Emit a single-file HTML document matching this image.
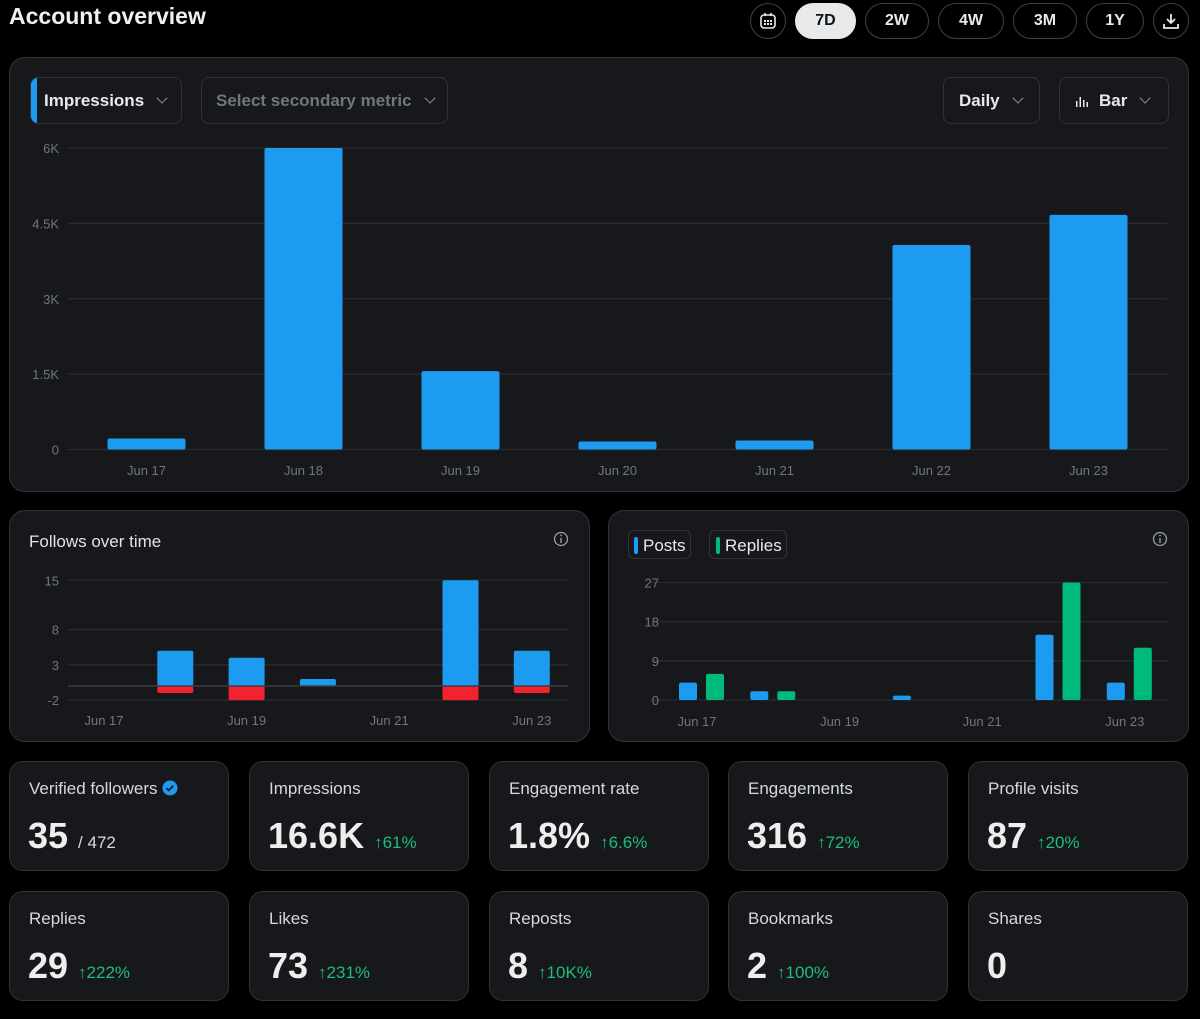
<!DOCTYPE html>
<html><head><meta charset="utf-8"><style>
*{box-sizing:border-box;margin:0;padding:0}
body{width:1200px;height:1019px;background:#000;position:relative;overflow:hidden;font-family:"Liberation Sans",sans-serif;color:#e7e9ea}
.abs{position:absolute}
.panel{position:absolute;background:#17181c;border:1px solid #2f3336;border-radius:16px}
.pill{position:absolute;top:3px;height:36px;border:1px solid #3e4144;border-radius:18px;color:#e7e9ea;font-weight:bold;font-size:16px;display:flex;align-items:center;justify-content:center}
.dd{position:absolute;top:77px;height:47px;border:1px solid #2f3336;border-radius:8px;display:flex;align-items:center;font-weight:bold;font-size:17px;color:#e7e9ea}
.chev{display:inline-block;width:8px;height:8px;border-right:1.5px solid #8b8f93;border-bottom:1.5px solid #8b8f93;transform:rotate(45deg);margin-top:-5px}
.card{position:absolute;width:220px;height:110px;background:#17181c;border:1px solid #2f3336;border-radius:14px}
.card .lb{position:absolute;left:19px;top:17px;font-size:17px;color:#d6d9db}
.card .val{position:absolute;left:18px;top:53px;font-size:36px;font-weight:bold;color:#eeeeee}
.card .dl{font-size:17px;font-weight:normal;color:#1fbd79;margin-left:10px}
.card .sub{font-size:17px;font-weight:normal;color:#d6d9db;margin-left:10px}
svg text{font-family:"Liberation Sans",sans-serif}
</style></head><body>
<div class="abs" style="left:9px;top:3px;font-size:23px;font-weight:bold;color:#f0f0f0">Account overview</div>

<div class="pill" style="left:750px;width:36px">
<svg width="18" height="18" viewBox="0 0 18 18"><rect x="2" y="3" width="14" height="13" rx="3" fill="none" stroke="#e7e9ea" stroke-width="1.6"/><line x1="6" y1="1" x2="6" y2="4" stroke="#e7e9ea" stroke-width="1.6"/><line x1="12" y1="1" x2="12" y2="4" stroke="#e7e9ea" stroke-width="1.6"/><g fill="#e7e9ea"><rect x="5" y="8" width="2" height="2"/><rect x="8" y="8" width="2" height="2"/><rect x="11" y="8" width="2" height="2"/><rect x="5" y="11" width="2" height="2"/><rect x="8" y="11" width="2" height="2"/><rect x="11" y="11" width="2" height="2"/></g></svg></div>
<div class="pill" style="left:795px;width:61px;background:#e7e9ea;color:#0f1419;border-color:#e7e9ea">7D</div>
<div class="pill" style="left:865px;width:64px">2W</div>
<div class="pill" style="left:938px;width:66px">4W</div>
<div class="pill" style="left:1013px;width:64px">3M</div>
<div class="pill" style="left:1086px;width:58px">1Y</div>
<div class="pill" style="left:1153px;width:36px">
<svg width="18" height="18" viewBox="0 0 18 18"><path d="M9 2v9M5 7l4 4 4-4M2 12v4h14v-4" fill="none" stroke="#e7e9ea" stroke-width="1.8"/></svg></div>

<div class="panel" style="left:9px;top:57px;width:1180px;height:435px"></div>
<div class="dd" style="left:30px;width:152px;overflow:hidden"><span style="width:6px;height:47px;background:#1d9bf0;margin-right:7px"></span>Impressions<span class="chev" style="margin-left:14px"></span></div>
<div class="dd" style="left:201px;width:247px;color:#71767b;padding-left:14px">Select secondary metric<span class="chev" style="margin-left:14px"></span></div>
<div class="dd" style="left:943px;width:97px;padding-left:15px">Daily<span class="chev" style="margin-left:14px"></span></div>
<div class="dd" style="left:1059px;width:110px;padding-left:15px"><svg width="14" height="12" style="margin-right:10px"><g fill="#e7e9ea"><rect x="1" y="6" width="1.5" height="6"/><rect x="4.5" y="2" width="1.5" height="10"/><rect x="8" y="5" width="1.5" height="7"/><rect x="11.5" y="7" width="1.5" height="5"/></g></svg>Bar<span class="chev" style="margin-left:14px"></span></div>

<div class="panel" style="left:9px;top:510px;width:581px;height:232px"></div>
<div class="abs" style="left:29px;top:532px;font-size:17px;color:#e1e3e5">Follows over time</div>
<div class="panel" style="left:608px;top:510px;width:581px;height:232px"></div>
<div class="abs" style="left:628px;top:530px;width:63px;height:29px;border:1px solid #2f3336;border-radius:6px;font-size:17px;padding:5px 0 0 14px"><span style="position:absolute;left:5px;top:6px;width:4px;height:17px;background:#1d9bf0;border-radius:2px"></span>Posts</div>
<div class="abs" style="left:709px;top:530px;width:78px;height:29px;border:1px solid #2f3336;border-radius:6px;font-size:17px;padding:5px 0 0 15px"><span style="position:absolute;left:6px;top:6px;width:4px;height:17px;background:#00ba7c;border-radius:2px"></span>Replies</div>

<svg class="abs" style="left:0;top:0" width="1200" height="1019" id="charts">
<g><circle cx="561" cy="539" r="6.5" fill="none" stroke="#9a9ea2" stroke-width="1.3"/><line x1="561" y1="538" x2="561" y2="543" stroke="#9a9ea2" stroke-width="1.4"/><circle cx="561" cy="535.5" r="0.9" fill="#9a9ea2"/></g>
<g><circle cx="1160" cy="539" r="6.5" fill="none" stroke="#9a9ea2" stroke-width="1.3"/><line x1="1160" y1="538" x2="1160" y2="543" stroke="#9a9ea2" stroke-width="1.4"/><circle cx="1160" cy="535.5" r="0.9" fill="#9a9ea2"/></g>
</svg>

<div class="card" style="left:9px;top:761px"><div class="lb">Verified followers <svg width="16" height="16" viewBox="0 0 16 16" style="vertical-align:-2px"><circle cx="8" cy="8" r="7.5" fill="#1d9bf0"/><path d="M4.5 8.2l2.3 2.2 4.5-4.6" fill="none" stroke="#17181c" stroke-width="1.8"/></svg></div><div class="val">35<span class="sub">/ 472</span></div></div>
<div class="card" style="left:249px;top:761px"><div class="lb">Impressions</div><div class="val">16.6K<span class="dl">↑61%</span></div></div>
<div class="card" style="left:489px;top:761px"><div class="lb">Engagement rate</div><div class="val">1.8%<span class="dl">↑6.6%</span></div></div>
<div class="card" style="left:728px;top:761px"><div class="lb">Engagements</div><div class="val">316<span class="dl">↑72%</span></div></div>
<div class="card" style="left:968px;top:761px"><div class="lb">Profile visits</div><div class="val">87<span class="dl">↑20%</span></div></div>
<div class="card" style="left:9px;top:891px"><div class="lb">Replies</div><div class="val">29<span class="dl">↑222%</span></div></div>
<div class="card" style="left:249px;top:891px"><div class="lb">Likes</div><div class="val">73<span class="dl">↑231%</span></div></div>
<div class="card" style="left:489px;top:891px"><div class="lb">Reposts</div><div class="val">8<span class="dl">↑10K%</span></div></div>
<div class="card" style="left:728px;top:891px"><div class="lb">Bookmarks</div><div class="val">2<span class="dl">↑100%</span></div></div>
<div class="card" style="left:968px;top:891px"><div class="lb">Shares</div><div class="val">0</div></div>

<script>
const days = ["Jun 17","Jun 18","Jun 19","Jun 20","Jun 21","Jun 22","Jun 23"];
const impressions = [220, 6000, 1560, 160, 180, 4070, 4670];
const impTicks = [0, 1500, 3000, 4500, 6000];
const impTickLabels = ["0","1.5K","3K","4.5K","6K"];
const followsGained = [0, 5, 4, 1, 0, 15, 5];
const followsLost = [0, -1, -2, 0, 0, -2, -1];
const followTicks = [-2, 3, 8, 15];
const postsSeries = [4, 2, 0, 1, 0, 15, 4];
const repliesSeries = [6, 2, 0, 0, 0, 27, 12];
const postTicks = [0, 9, 18, 27];
const followLabelIdx = [0, 2, 4, 6];

const svg = document.getElementById('charts');
const NS = 'http://www.w3.org/2000/svg';
function mk(tag, attrs){const e=document.createElementNS(NS,tag);for(const k in attrs)e.setAttribute(k,attrs[k]);svg.appendChild(e);return e;}
function rectV(x,w,y0,y1){return {x:x,y:Math.min(y0,y1),width:w,height:Math.max(Math.abs(y1-y0),1)};}

const mY = v => 449.5 - v/6000*301.5;
const mX = i => 146.5 + i*157;
impTicks.forEach((t,i)=>{
  const l=mk('line',{x1:68,x2:1167,y1:mY(t),y2:mY(t),stroke:'#2a2d31','stroke-width':1.2});
  
  
  const tx=mk('text',{x:59,y:mY(t)+5,'text-anchor':'end','font-size':13,fill:'#71767b'});
  tx.textContent=impTickLabels[i];
  
  
});
impressions.forEach((v,i)=>{
  const r=rectV(mX(i)-39,78,mY(0),mY(v));
  const b=mk('rect',{x:r.x,y:r.y,width:r.width,height:r.height,rx:2,fill:'#1d9bf0'});
  
  
  const tx=mk('text',{x:mX(i),y:475,'text-anchor':'middle','font-size':13,fill:'#71767b'});
  tx.textContent=days[i];
  
  
});

const fY = v => 686 - v*7.05;
const fX = i => 104 + i*71.3;
followTicks.forEach(t=>{
  const l=mk('line',{x1:68,x2:568,y1:fY(t),y2:fY(t),stroke:'#2a2d31','stroke-width':1.2});
  
  
  const tx=mk('text',{x:59,y:fY(t)+5,'text-anchor':'end','font-size':13,fill:'#71767b'});
  tx.textContent=String(t);
  
  
});
days.forEach((d,i)=>{
  if(followsGained[i]){
    const r=rectV(fX(i)-18,36,fY(0),fY(followsGained[i]));
    const b=mk('rect',{x:r.x,y:r.y,width:r.width,height:r.height,rx:2,fill:'#1d9bf0'});
    
    
  }
  if(followsLost[i]){
    const r=rectV(fX(i)-18,36,fY(0),fY(followsLost[i]));
    const b=mk('rect',{x:r.x,y:r.y,width:r.width,height:r.height,rx:2,fill:'#f4212e'});
    
    
  }
});
const zl=mk('line',{x1:68,x2:568,y1:fY(0),y2:fY(0),stroke:'#3a3d41','stroke-width':1.5});


followLabelIdx.forEach(i=>{
  const tx=mk('text',{x:fX(i),y:725,'text-anchor':'middle','font-size':13,fill:'#71767b'});
  tx.textContent=days[i];
  
  
});

const pY = v => 700 - v*4.35;
const pX = i => 701 + i*71.3;
postTicks.forEach(t=>{
  const l=mk('line',{x1:651,x2:1168,y1:pY(t),y2:pY(t),stroke:'#2a2d31','stroke-width':1.2});
  
  
  const tx=mk('text',{x:659,y:pY(t)+5,'text-anchor':'end','font-size':13,fill:'#71767b'});
  tx.textContent=String(t);
  
  
});
days.forEach((d,i)=>{
  if(postsSeries[i]){
    const r=rectV(pX(i)-22,18,pY(0),pY(postsSeries[i]));
    const b=mk('rect',{x:r.x,y:r.y,width:r.width,height:r.height,rx:2,fill:'#1d9bf0'});
    
    
  }
  if(repliesSeries[i]){
    const r=rectV(pX(i)+5,18,pY(0),pY(repliesSeries[i]));
    const b=mk('rect',{x:r.x,y:r.y,width:r.width,height:r.height,rx:2,fill:'#00ba7c'});
    
    
  }
});
followLabelIdx.forEach(i=>{
  const tx=mk('text',{x:pX(i)-4,y:726,'text-anchor':'middle','font-size':13,fill:'#71767b'});
  tx.textContent=days[i];
  
  
});
</script>
</body></html>
